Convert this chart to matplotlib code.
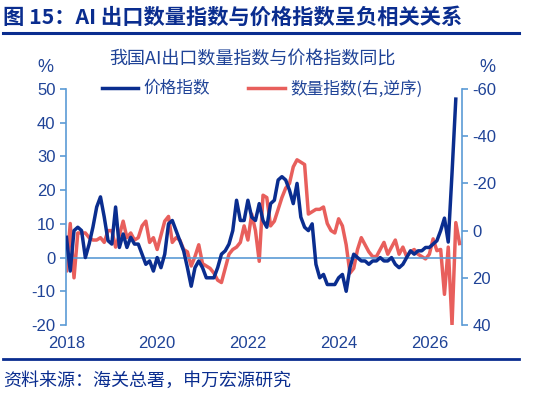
import numpy as np
import matplotlib.pyplot as plt
from matplotlib.lines import Line2D

plt.rcParams['axes.unicode_minus'] = False

# 价格指数同比（左轴，%），2018-01 起按月
price = [6, -4, 8, 9, 8, 0, 4, 9, 15, 18, 12, 5, 4, 15, 3, 7, 3, 6, 4, 4,
         1, -2, -1, -4, 0, -3, 1, 10, 11, 8, 5, 2, -3, -8.5, -3, -1, -3, -6, -6, -6,
         -3, 1, 2, 4, 8, 17, 11, 11, 17, 12, 11, 16, 11, 9, 16, 17, 23, 24, 23, 20,
         16, 22, 12, 9, 8, 10, -2, -6, -5, -8, -8, -8, -6, -5, -10, -3, 1, 0, -1, -1,
         -2, -1, -1, 0, -1, -1, 0, -2, -3, -2, 0, 2, 1, 2, 2, 3, 3, 4, 5, 8,
         11.7, 4.6, 25, 47]
# 数量指数同比（右轴，逆序，%）
qty = [17, -3, 20, 1, 1, 1, 3, 4, 4, 3, 5, 0, 0, 7, 2, -4, 3, 1, 4, 3,
       -2, -4, 5, 3, 8, 2, -4, -6, 5, 3, 4, 8, 9, 15, 11, 6, 14, 15, 16, 18,
       21, 22, 16, 10, 8, 7, 5, -2, 4, -7, 0, 13, -15, -14, -2, -4, -9, -14, -18, -20,
       -27, -30, -29, -28, -7, -8, -9, -9, -10, -3, 0, 1, -5, -2, 6, 18, 16, 8, 3, 6,
       9, 11, 11, 8, 5, 10, 7, 4, 10, 7, 11, 9, 8, 10, 11, 12, 10, 3.5, 8.5, 8,
       27, 7, 40, -3.4, 5.5]
year_ticks = [2018, 2020, 2022, 2024, 2026]

navy = '#0a2d8f'
red = '#e85f5c'
axis_c = '#5b9bd5'
txt_c = '#1f4397'
cjk = ['Noto Sans CJK SC', 'DejaVu Sans']
num = ['Liberation Sans', 'Noto Sans CJK SC']

x_p = 2018 + np.arange(len(price)) / 12
x_q = 2018 + np.arange(len(qty)) / 12

fig = plt.figure(figsize=(5.41, 3.95), dpi=100)
ax = fig.add_axes([66 / 541, 1 - 325 / 395, 396 / 541, 236 / 395])
ax2 = ax.twinx()

ax.axhline(0, color=axis_c, lw=1.2, zorder=1)
l2, = ax2.plot(x_q, qty, color=red, lw=2.5, label='数量指数(右,逆序)', zorder=2)
l1, = ax.plot(x_p, price, color=navy, lw=2.5, label='价格指数', zorder=3)
ax.set_zorder(ax2.get_zorder() + 1)
ax.patch.set_visible(False)

ax.set_xlim(2017.99, 2026.72)
ax.set_ylim(-20, 50)
ax.set_yticks(range(-20, 51, 10))
ax2.set_ylim(40, -60)
ax2.set_yticks(range(-60, 41, 20))
ax.set_xticks(year_ticks)

for a in (ax, ax2):
    for s in ('top', 'bottom', 'left', 'right'):
        a.spines[s].set_visible(False)
    a.tick_params(axis='y', colors=axis_c, labelcolor=txt_c, labelsize=12, length=4, width=1.2)
    for lab in a.get_yticklabels():
        lab.set_family(num)
ax.spines['left'].set_visible(True)
ax.spines['left'].set_color(axis_c)
ax.spines['left'].set_linewidth(1.2)
ax2.spines['right'].set_visible(True)
ax2.spines['right'].set_color(axis_c)
ax2.spines['right'].set_linewidth(1.2)
ax.tick_params(axis='x', length=0, labelcolor=txt_c, labelsize=12, pad=8)
for lab in ax.get_xticklabels():
    lab.set_family(num)

leg = ax.legend(handles=[l1, l2], loc='center', bbox_to_anchor=(0.495, 1.0), ncol=2,
                frameon=False, handlelength=2.2, handletextpad=0.3, columnspacing=2.3,
                prop={'family': cjk, 'size': 12})
for t in leg.get_texts():
    t.set_color(txt_c)

fig.text(0.006, 0.955, '图 15：AI 出口数量指数与价格指数呈负相关关系', family=cjk, fontsize=15.3,
         fontweight='bold', color=navy, va='center', ha='left')
fig.add_artist(Line2D([0.006, 0.96], [1 - 33 / 395] * 2, color=navy, lw=2.2))
fig.text(252 / 541, 1 - 60 / 395, '我国AI出口数量指数与价格指数同比', family=cjk, fontsize=13,
         color=txt_c, va='center', ha='center')
fig.text(45 / 541, 1 - 68 / 395, '%', family=num, fontsize=13, color=txt_c, va='center', ha='center')
fig.text(487 / 541, 1 - 68 / 395, '%', family=num, fontsize=13, color=txt_c, va='center', ha='center')
fig.add_artist(Line2D([0.006, 0.96], [1 - 359 / 395] * 2, color=navy, lw=2))
fig.text(0.006, 1 - 381 / 395, '资料来源：海关总署，申万宏源研究', family=cjk, fontsize=13,
         color=navy, va='center', ha='left')

fig.savefig('out.png', dpi=100)
